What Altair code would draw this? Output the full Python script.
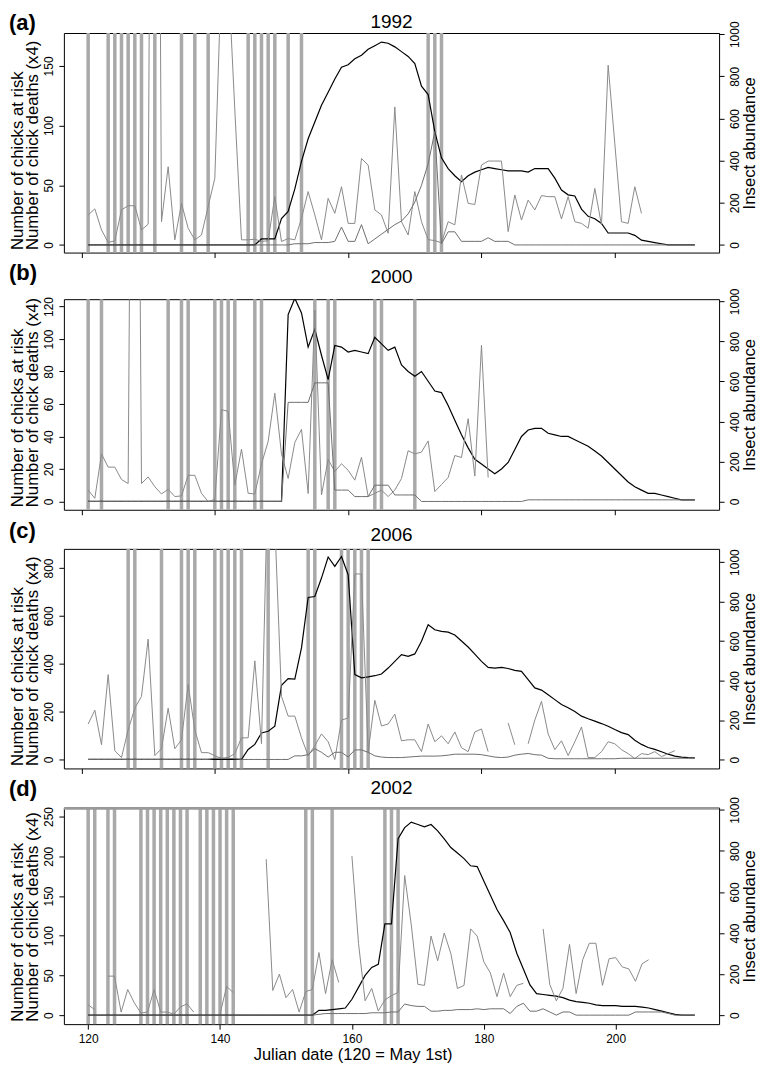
import altair as alt
import pandas as pd

DAYS = list(range(120, 213))  # 93 days

# ---------------- Panel (a) 1992 ----------------
rain_a = [121, 124, 125, 126, 127, 128, 129, 131, 135, 137, 139, 145, 146, 147, 148, 149, 151, 153, 172, 173, 174]
risk_a = [None,
          0, 0, 0, 0, 0, 0, 0, 0, 0,
          0, 0, 0, 0, 0, 0, 0, 0, 0, 0,
          0, 0, 0, 0, 0, 0, 0, 5, 5, 5,
          22, 28, 47, 70, 89, 103, 117, 128, 139, 149,
          151, 156, 159, 164, 167, 170, 169, 166, 162, 158,
          152, 133, 126, 95, 73, 64, 58, 53, 58, 61,
          63, 65, 64, 63, 62, 62, 62, 61, 64, 64,
          64, 56, 46, 42, 41, 30, 24, 22, 18, 10,
          10, 10, 10, 8, 4, 3, 2, 1, 0, 0,
          0, 0, 0]
deaths_a = [None,
            0, 0, 0, 0, 0, 0, 0, 0, 0,
            0, 0, 0, 0, 0, 0, 0, 0, 0, 0,
            0, 0, 0, 0, 0, 0, 0, 0, 0, 0,
            0, 0, 1, 1, 1, 2, 2, 2, 3, 15,
            3, 3, 17, 1, 5, 9, 13, 17, 20, 26,
            36, 50, 68, 95, 1, 11, 11, 3, 3, 3,
            3, 6, 3, 3, 3, 0, 0, 0, 0, 0,
            0, 0, 0, 0, 0, 0, 0, 0, 0, 0,
            0, 0, 0, 0, 0, 0, 0, 0, 0, 0,
            0, 0, 0]
insect_a = [None,
            142, 171, 71, 12, 19, 166, 186, 186, 71,
            98, 6000, 110, 371, 24, 197, 79, 24, 47, 182,
            316, 1300, 1300, 640, 24, 24, 27, 16, 20, 229,
            16, 30, 24, 126, 253, 142, 24, 221, 150, 276,
            102, 102, 410, 379, 166, 142, 55, 655, 110, 47,
            253, 110, 25, 20, 10, 110, 95, 332, 197, 192,
            379, 398, 398, 398, 63, 237, 118, 213, 166, 234,
            229, 229, 123, 229, 110, 102, 79, 268, 95, 853,
            480, 110, 102, 276, 150, None, None, None, None, None,
            None, None, None]

# ---------------- Panel (b) 2000 ----------------
rain_b = [121, 123, 133, 135, 136, 140, 141, 142, 143, 146, 147, 155, 157, 158, 164, 165, 170]
risk_b = [None,
          0, 0, 0, 0, 0, 0, 0, 0, 0,
          0, 0, 0, 0, 0, 0, 0, 0, 0, 0,
          0, 0, 0, 0, 0, 0, 0, 0, 0, 0,
          0, 115, 125, 116, 95, 106, 90, 75, 96, 95,
          92, 93, 92, 91, 101, 97, 93, 95, 84, 80,
          77, 80, 74, 68, 67, 59, 50, 41, 33, 26,
          23, 20, 17, 20, 24, 32, 40, 44, 45, 45,
          42, 41, 40, 40, 38, 36, 34, 31, 28, 24,
          20, 16, 12, 9, 7, 5, 5, 4, 3, 2,
          1, 1, 1]
deaths_b = [None,
            0, 0, 0, 0, 0, 0, 0, 0, 0,
            0, 0, 0, 0, 0, 0, 0, 0, 0, 0,
            0, 0, 0, 0, 0, 0, 0, 0, 0, 0,
            0, 61, 61, 61, 61, 73, 73, 73, 7, 7,
            7, 3, 3, 3, 10, 10, 10, 4, 4, 4,
            4, 0, 0, 0, 0, 0, 0, 0, 0, 0,
            0, 0, 0, 0, 0, 0, 0, 1, 1, 1,
            1, 1, 1, 1, 1, 1, 1, 1, 1, 1,
            1, 1, 1, 1, 1, 1, 1, 1, 1, 1,
            1, 1, 1]
insect_b = [None,
            57, 16, 238, 172, 172, 110, 90, 5000, 90,
            123, 74, 38, 61, 25, 28, 131, 131, 41, 0,
            11, 459, 451, 82, 262, 41, 38, 188, 300, 541,
            238, 115, 295, 361, 40, 956, 33, 210, 150, 189,
            156, 107, 221, 25, 41, 57, 25, 57, 115, 254,
            238, 247, 303, 50, 85, 120, 230, 220, 414, 127,
            781, 120, None, None, None, None, None, None, None, None,
            None, None, None, None, None, None, None, None, None, None,
            None, None, None, None, None, None, None, None, None, None,
            None, None, None]

# ---------------- Panel (c) 2006 ----------------
rain_c = [127, 128, 132, 135, 136, 137, 140, 141, 142, 143, 144, 148, 154, 155, 159, 160, 161, 162, 163]
risk_c = [None,
          0, 0, 0, 0, 0, 0, 0, 0, 0,
          0, 0, 0, 0, 0, 0, 0, 0, 0, 0,
          0, 0, 0, 0, 0, 42, 63, 111, 118, 139,
          310, 338, 336, 466, 677, 681, 758, 846, 807, 848,
          772, 355, 341, 345, 350, 357, 382, 410, 438, 431,
          441, 494, 563, 542, 535, 532, 520, 495, 470, 440,
          410, 385, 382, 385, 380, 372, 368, 334, 299, 290,
          270, 250, 230, 216, 200, 181, 170, 160, 150, 139,
          125, 112, 104, 80, 63, 50, 42, 32, 22, 14,
          10, 8, 7]
deaths_c = [None,
            0, 0, 0, 0, 0, 0, 0, 0, 0,
            0, 0, 0, 0, 0, 0, 0, 0, 0, 0,
            5, 5, 5, 3, 0, 0, 0, 0, 0, 0,
            0, 0, 15, 15, 20, 45, 30, 10, 30, 30,
            10, 40, 40, 30, 15, 10, 8, 8, 8, 10,
            12, 14, 14, 14, 15, 18, 22, 22, 22, 22,
            20, 15, 10, 8, 10, 18, 22, 25, 20, 18,
            5, 3, 3, 3, 3, 3, 3, 3, 3, 3,
            3, 5, 5, 5, 5, 5, 5, 5, 5, 5,
            5, 5, 5]
insect_c = [None,
            180, 250, 75, 430, 45, 10, 150, 260, 320,
            610, 20, 55, 260, 55, 100, 380, 150, 35, 35,
            20, 5, 10, 30, 110, 110, 500, 80, 1500, 1200,
            320, 220, 220, 110, 20, 70, 130, 90, 0, 200,
            210, 940, 940, 40, 300, 170, 180, 230, 95, 100,
            100, 40, 180, 90, 120, 80, 140, 60, 40, 140,
            155, 40, None, None, 185, 75, None, 80, 200, 295,
            130, 50, 95, 20, 90, 165, 10, 10, 40, 90,
            80, 50, 30, 5, 30, 25, 40, 15, 30, 45,
            None, None, None]

# ---------------- Panel (d) 2002 ----------------
rain_d = [120, 121, 123, 124, 128, 129, 130, 131, 132, 133, 134, 135, 137, 138, 139, 140, 141, 142, 153, 154, 157, 165, 166, 167]
risk_d = [0, 0, 0, 0, 0, 0, 0, 0, 0, 0,
          0, 0, 0, 0, 0, 0, 0, 0, 0, 0,
          0, 0, 0, 0, 0, 0, 0, 0, 0, 0,
          0, 0, 0, 0, 0, 6, 6, 7, 8, 9,
          20, 35, 50, 60, 64, 115, 115, 222, 236, 243,
          240, 237, 240, 232, 222, 211, 204, 197, 188, 187,
          169, 151, 133, 119, 104, 78, 58, 38, 27, 26,
          25, 24, 22, 19, 17, 16, 15, 13, 12, 12,
          12, 11, 11, 11, 10, 9, 7, 5, 3, 1,
          0, 0, 0]
deaths_d = [0, 0, 0, 0, 0, 0, 0, 0, 0, 0,
            0, 0, 0, 0, 0, 0, 0, 0, 0, 0,
            0, 0, 0, 0, 0, 0, 0, 0, 0, 0,
            0, 0, 0, 0, 0, 1, 2, 2, 2, 2,
            2, 2, 2, 3, 3, 3, 4, 4, 14, 12,
            11, 11, 5, 5, 6, 6, 7, 7, 7, 8,
            7, 8, 8, 8, 2, 11, 15, 5, 5, 8,
            4, 0, 4, 4, 0, 0, 0, 0, 0, 0,
            0, 0, 0, 4, 4, 4, 4, 4, 2, 0,
            0, 0, 0]
insect_d = [50, 27, None, 190, 190, 15, 125, 60, 10, 15,
            125, 15, 15, 5, 40, 55, 15, None, None, None,
            5, 140, 110, None, None, None, None, 760, 120, 200,
            85, 125, 15, 115, 125, 305, 105, 270, 160, None,
            775, 350, 70, 130, 20, 75, 95, 110, 680, 440,
            150, 145, 385, 265, 400, 300, 130, 145, 420, 385,
            260, 205, 90, 205, 90, 145, 155, None, None, 420,
            150, 70, 130, 345, 105, 270, 350, 350, 145, 275,
            280, 235, 225, 165, 250, 270, None, None, None, None,
            None, None, None]

X_TICKS = [120, 140, 160, 180, 200]
RIGHT_TICKS = [0, 200, 400, 600, 800, 1000]
FONT = "Liberation Sans"
W = 656.5


def series_df(values):
    rows, seg, gap = [], 0, True
    for d, v in zip(DAYS, values):
        if v is None:
            gap = True
            continue
        if gap:
            seg += 1
            gap = False
        rows.append({"day": d, "value": v, "seg": seg})
    return pd.DataFrame(rows)


def panel(tag, year, rain, risk, deaths, insect, xdom, ldom, lticks, rdom, height,
          tag_y, year_y, bottom=False):
    xaxis = alt.Axis(values=X_TICKS, labels=bottom, ticks=True, tickSize=5, domain=False, grid=False,
                     tickColor="black", labelColor="black", labelFontSize=12, labelFont=FONT,
                     labelPadding=4,
                     title="Julian date (120 = May 1st)" if bottom else None,
                     titleFont=FONT, titleFontSize=16.5, titleFontWeight="normal", titleColor="black",
                     titleX=289.3, titleY=35, titleAlign="center", titleBaseline="alphabetic")
    X = alt.X("day:Q", scale=alt.Scale(domain=xdom, nice=False, zero=False), axis=xaxis)
    lscale = alt.Scale(domain=ldom, nice=False, zero=False)
    rscale = alt.Scale(domain=rdom, nice=False, zero=False)
    laxis = alt.Axis(orient="left", values=lticks, format="d", labelAngle=270, labelAlign="center",
                     labelBaseline="alphabetic", labelPadding=6, tickSize=5, domain=False, grid=False,
                     tickColor="black", labelColor="black", labelFontSize=12, labelFont=FONT,
                     title=["Number of chicks at risk", "Number of chick deaths (x4)"],
                     titleAngle=270, titleFont=FONT, titleFontSize=16.8, titleFontWeight="normal",
                     titleColor="black", titleAlign="left", titleBaseline="alphabetic",
                     titleX=-41, titleY=height - 3, titleLineHeight=15)
    raxis = alt.Axis(orient="right", values=RIGHT_TICKS, format="d", labelAngle=270, labelAlign="center",
                     labelBaseline="alphabetic", labelPadding=14.5, tickSize=5, domain=False, grid=False,
                     tickColor="black", labelColor="black", labelFontSize=12, labelFont=FONT,
                     title="Insect abundance", titleAngle=270, titleBaseline="alphabetic",
                     titleAlign="center", titleX=35.5, titleY=height / 2,
                     titleFont=FONT, titleFontSize=16.8, titleFontWeight="normal",
                     titleColor="black")

    rain_l = alt.Chart(pd.DataFrame({"day": rain})).mark_rule(
        color="#a9a9a9", strokeWidth=3.5).encode(x=X)
    insect_l = alt.Chart(series_df(insect)).mark_line(
        color="#8a8a8a", strokeWidth=1, clip=True).encode(
        x=X, y=alt.Y("value:Q", scale=rscale, axis=raxis), detail="seg:N")
    deaths_l = alt.Chart(series_df(deaths)).mark_line(
        color="#6e6e6e", strokeWidth=1, clip=True).encode(
        x=X, y=alt.Y("value:Q", scale=lscale, axis=None), detail="seg:N")
    risk_l = alt.Chart(series_df(risk)).mark_line(
        color="black", strokeWidth=1.2, clip=True).encode(
        x=X, y=alt.Y("value:Q", scale=lscale, axis=laxis), detail="seg:N")
    tag_l = alt.Chart(pd.DataFrame({"t": [tag]})).mark_text(
        font=FONT, fontSize=22, fontWeight="bold", align="left", baseline="alphabetic",
        color="black").encode(x=alt.value(-55), y=alt.value(tag_y), text="t:N")
    year_l = alt.Chart(pd.DataFrame({"t": [year]})).mark_text(
        font=FONT, fontSize=19, align="center", baseline="alphabetic",
        color="black").encode(x=alt.value(W / 2), y=alt.value(year_y), text="t:N")

    layers = [rain_l, risk_l, insect_l, deaths_l, tag_l, year_l]
    if bottom:
        top_edge = alt.Chart(pd.DataFrame({"k": [0]})).mark_rule(
            color="#9a9a9a", strokeWidth=2.5).encode(
            x=alt.value(0), x2=alt.value(W), y=alt.value(1))
        layers.insert(1, top_edge)
    return alt.layer(*layers).resolve_scale(y="independent").properties(width=W, height=height)


XDOM_AC = [117.36, 215.64]
XDOM_D = [116.32, 215.68]

pa = panel("(a)", "1992", rain_a, risk_a, deaths_a, insect_a, XDOM_AC,
           [-6.4, 177.6], [0, 50, 100, 150], [-36.5, 1006], 220, -3, -5.5)
pb = panel("(b)", "2000", rain_b, risk_b, deaths_b, insect_b, XDOM_AC,
           [-5.1, 124.5], [0, 20, 40, 60, 80, 100, 120], [-41, 1011], 211, -19, -16)
pc = panel("(c)", "2006", rain_c, risk_c, deaths_c, insect_c, XDOM_AC,
           [-37.5, 880], [0, 200, 400, 600, 800], [-45, 1067], 220, -11, -8)
pd_ = panel("(d)", "2002", rain_d, risk_d, deaths_d, insect_d, XDOM_D,
            [-11.3, 261.3], [0, 50, 100, 150, 200, 250], [-43.7, 1011], 217, -12, -14,
            bottom=True)

inner = alt.vconcat(pb, pc, pd_, spacing=39.2, bounds="flush")
chart = alt.vconcat(pa, inner, spacing=46.7, bounds="flush").properties(
    padding={"left": 0, "top": 2, "right": 0, "bottom": 0},
    background="white"
).configure_view(stroke="black", strokeWidth=1)

chart.save("out.html", embed_options={"renderer": "svg", "actions": False})
